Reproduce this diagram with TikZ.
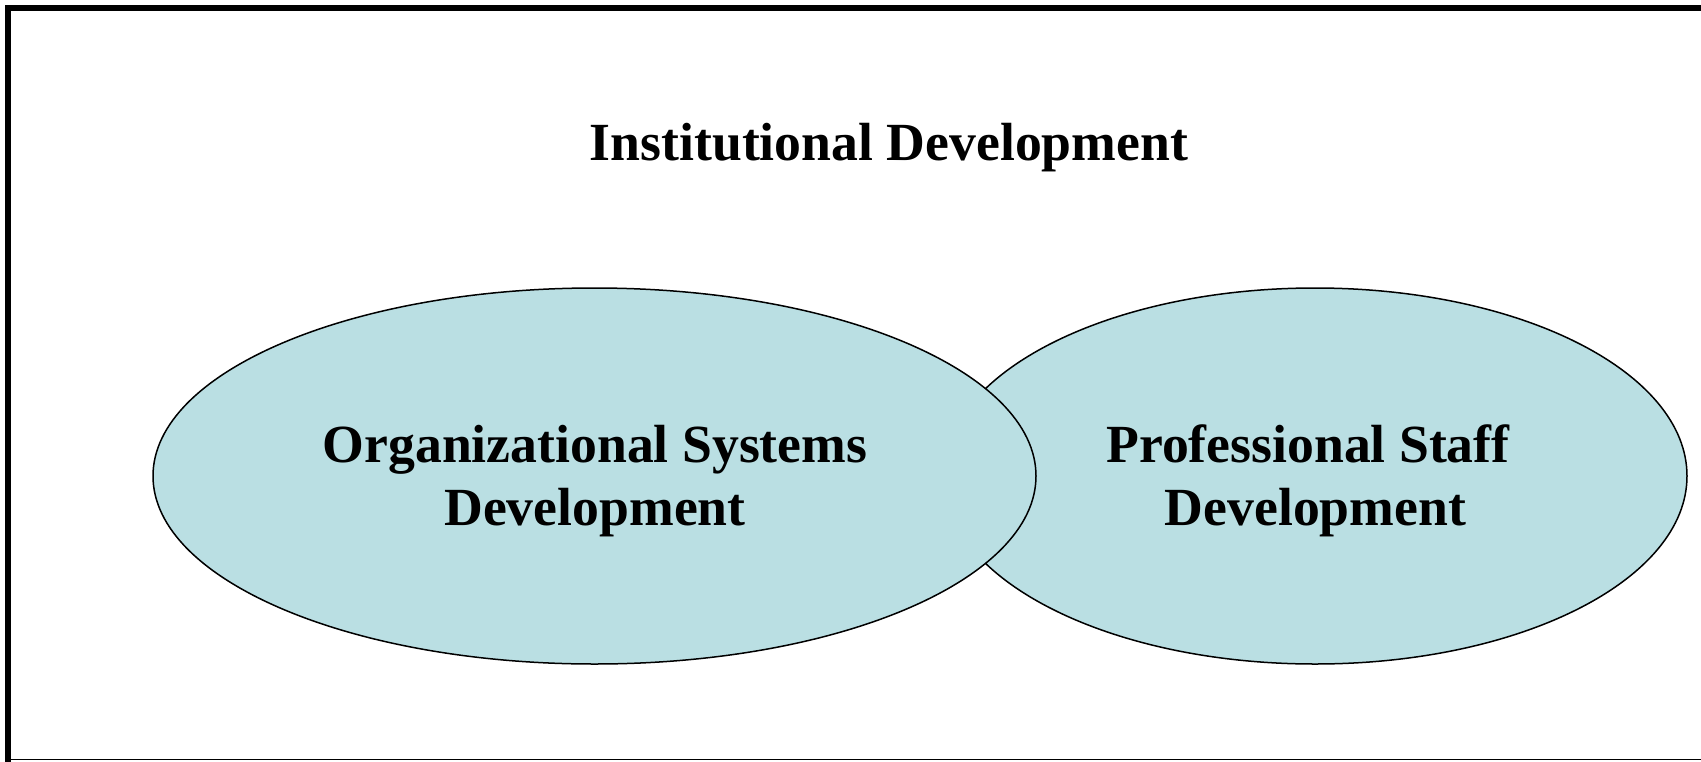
\documentclass[tikz,border=0pt]{standalone}
\usepackage{fontspec}
\setmainfont{Liberation Serif}
\usetikzlibrary{shapes.geometric}
\definecolor{ovalfill}{RGB}{186,223,227}
\tikzset{
  oval/.style={ellipse, draw=black, line width=1.5pt, fill=ovalfill, inner sep=0pt},
  lbl/.style={font=\fontsize{53.7}{63}\selectfont\bfseries, align=center, inner sep=0pt, anchor=base}
}
\begin{document}
\begin{tikzpicture}[x=1pt,y=-1pt]
\useasboundingbox (0,0) rectangle (1701,761);
\fill[white] (0,0) rectangle (1701,761);
% frame (right and bottom cut off)
\draw[line width=6pt] (8,764) -- (8,8) -- (1705,8);
\draw[line width=1.5pt] (8,759.5) -- (1705,759.5);
\node[lbl] (title) at (889,160) {Institutional Development};
\node[oval, minimum width=744pt, minimum height=376pt] (psd) at (1315,476) {};
\node[oval, minimum width=883pt, minimum height=376pt] (osd) at (594.5,476) {};
\node[lbl] (osdt) at (595,525) {Organizational Systems\\Development};
\node[lbl] (psdt) at (1308,525) {Professional Staff\\\hspace*{15pt}Development};
\end{tikzpicture}
\end{document}
